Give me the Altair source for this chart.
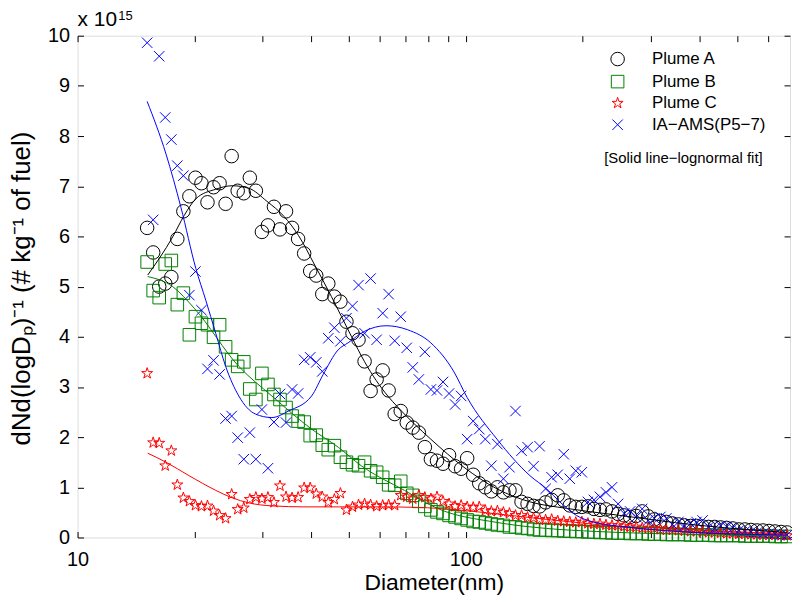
import altair as alt
import pandas as pd

FONT = "Liberation Sans, Arial, Helvetica, sans-serif"

# SMPS / AMS size bins (nm)
diam = [15.11, 15.66, 16.23, 16.82, 17.44, 18.07, 18.73, 19.41,
        20.12, 20.85, 21.61, 22.40, 23.22, 24.06, 24.94, 25.85,
        26.80, 27.78, 28.79, 29.84, 30.93, 32.05, 33.22, 34.43,
        35.69, 36.99, 38.34, 39.74, 41.19, 42.69, 44.24, 45.86,
        47.54, 49.27, 51.07, 52.93, 54.86, 56.86, 58.93, 61.08,
        63.28, 65.59, 67.98, 70.46, 73.02, 75.69, 78.44, 81.30,
        84.29, 87.36, 90.55, 93.85, 97.27, 100.81, 104.49, 108.30,
        112.27, 116.36, 120.60, 125.00, 129.56, 134.28, 139.17, 144.25,
        149.44, 154.89, 160.53, 166.38, 172.45, 178.74, 185.25, 192.00,
        199.0, 206.3, 213.8, 221.6, 229.6, 238.0, 246.7, 255.7,
        265.0, 274.7, 284.7, 295.0, 305.8, 317.0, 328.5, 340.5,
        352.9, 365.8, 379.1, 392.9, 407.2, 422.1, 437.5, 453.4,
        470.0, 487.1, 504.9, 523.3, 542.4, 562.1, 582.6, 603.9,
        625.9, 648.7, 672.4]

# values in units of 1e15 (# kg^-1 of fuel)
plume_a = [6.17, 5.68, 5.00, 5.06, 5.19, 5.95, 6.50, 6.80, 7.17, 7.06,
           6.68, 6.98, 7.06, 6.65, 7.60, 6.91, 6.86, 7.17, 6.91, 6.09,
           6.22, 6.59, 6.14, 6.50, 6.17, 5.95, 5.66, 5.31, 5.22, 4.85,
           5.06, 4.80, 4.70, 4.30, 4.07, 3.94, 3.51, 2.92, 3.15, 3.33,
           2.93, 2.46, 2.52, 2.29, 2.19, 2.09, 1.80, 1.56, 1.53, 1.47,
           1.64, 1.42, 1.37, 1.58, 1.25, 1.08, 1.00, 0.92, 1.00, 0.90,
           0.94, 0.94, 0.71, 0.67, 0.63, 0.62, 0.70, 0.75, 0.84, 0.74,
           0.64, 0.61, 0.61, 0.62, 0.57, 0.55, 0.56, 0.52, 0.47, 0.44,
           0.41, 0.43, 0.52, 0.42, 0.36, 0.33, 0.31, 0.28, 0.26, 0.24,
           0.23, 0.23, 0.22, 0.21, 0.21, 0.20, 0.19, 0.18, 0.16, 0.16,
           0.15, 0.14, 0.14, 0.13, 0.12, 0.11, 0.10]

plume_b = [5.49, 4.92, 4.78, 5.45, 5.52, 4.64, 4.87, 4.04, 4.40, 4.27,
           4.24, 3.99, 4.24, 3.80, 3.54, 3.41, 3.50, 2.96, 2.75, 3.27,
           3.05, 2.85, 2.75, 2.59, 2.42, 2.32, 2.30, 2.03, 2.04, 1.84,
           1.75, 1.83, 1.60, 1.50, 1.45, 1.43, 1.50, 1.33, 1.30, 1.20,
           1.05, 1.04, 1.12, 0.88, 0.84, 0.72, 0.62, 0.55, 0.51, 0.48,
           0.44, 0.41, 0.38, 0.35, 0.32, 0.31, 0.29, 0.27, 0.25, 0.24,
           0.21, 0.21, 0.19, 0.18, 0.16, 0.15, 0.15, 0.14, 0.14, 0.13,
           0.13, 0.12, 0.12, 0.11, 0.11, 0.10, 0.10, 0.09, 0.09, 0.09,
           0.08, 0.08, 0.08, 0.07, 0.07, 0.07, 0.06, 0.06, 0.06, 0.06,
           0.05, 0.05, 0.05, 0.05, 0.04, 0.04, 0.04, 0.04, 0.04, 0.03,
           0.03, 0.03, 0.03, 0.03, 0.02, 0.02, 0.02]

plume_c = [3.27, 1.89, 1.88, 1.43, 1.73, 1.05, 0.79, 0.72, 0.64, 0.62,
           0.63, 0.53, 0.44, 0.38, 0.86, 0.56, 0.59, 0.76, 0.80, 0.77,
           0.80, 0.70, 1.03, 0.81, 0.79, 0.80, 0.99, 0.99, 0.87, 0.81,
           0.70, 0.76, 0.88, 0.55, 0.61, 0.65, 0.67, 0.65, 0.62, 0.64,
           0.65, 0.64, 0.84, 0.81, 0.77, 0.84, 0.80, 0.77, 0.81, 0.72,
           0.67, 0.62, 0.64, 0.61, 0.60, 0.61, 0.54, 0.52, 0.53, 0.50,
           0.48, 0.44, 0.44, 0.40, 0.39, 0.36, 0.35, 0.36, 0.33, 0.32,
           0.31, 0.30, 0.31, 0.28, 0.27, 0.27, 0.25, 0.24, 0.24, 0.22,
           0.21, 0.21, 0.19, 0.18, 0.18, 0.16, 0.15, 0.15, 0.14, 0.13,
           0.12, 0.12, 0.11, 0.10, 0.10, 0.09, 0.08, 0.08, 0.07, 0.07,
           0.06, 0.06, 0.05, 0.05, 0.05, 0.04, 0.04]

ams = [9.86, 6.33, 9.59, 8.37, 7.93, 7.41, 7.21, 4.83, 5.30, 4.53,
       3.36, 3.53, 3.25, 2.37, 2.42, 1.99, 1.56, 2.09, 1.56, 2.55,
       1.38, 2.30, 2.86, 2.29, 2.95, 2.87, 3.54, 3.59, 3.49, 3.31,
       3.97, 4.18, 3.91, 4.37, 4.61, 5.03, 4.07, 5.16, 3.94, 4.47,
       4.85, 3.92, 4.40, 3.78, 3.39, 3.15, 3.70, 2.95, 2.93, 3.10,
       2.87, 2.65, 2.82, 1.96, 2.32, 2.16, 1.96, 1.43, 1.86, 1.17,
       1.40, 2.52, 1.73, 1.80, 1.42, 1.82, 0.97, 1.20, 1.25, 1.66,
       1.17, 1.33, 1.30, 0.71, 0.75, 0.81, 0.90, 1.00, 0.67, 0.48,
       0.52, 0.41, 0.57, 0.34, 0.38, 0.41, 0.38, 0.26, 0.31, 0.23,
       0.28, 0.31, 0.34, 0.21, 0.18, 0.23, 0.21, 0.19, 0.14, 0.12,
       0.11, 0.10, 0.08, 0.08, 0.07, 0.06, 0.05]

# lognormal fit curves
fit_a_d = [15.16, 17.58, 18.83, 20.17, 22.69, 25.02, 27.60, 30.74, 34.0, 37.06,
           40.88, 45.08, 50.72, 54.88, 62.96, 66.77, 81.23, 98.89, 120.3, 146.4,
           181.7, 243.9, 390.7, 671.6]
fit_a_y = [5.23, 5.99, 6.42, 6.75, 6.94, 7.01, 6.96, 6.70, 6.40, 6.02,
           5.42, 4.80, 4.01, 3.50, 2.82, 2.60, 1.96, 1.40, 0.97, 0.71,
           0.58, 0.45, 0.25, 0.10]
fit_b_d = [15.16, 17.58, 19.97, 26.02, 31.66, 40.07, 46.91, 53.79, 69.45, 84.5,
           120.3, 161.5, 216.8, 390.7, 671.6]
fit_b_y = [5.20, 5.00, 4.57, 3.41, 2.82, 2.16, 1.80, 1.43, 0.94, 0.58,
           0.30, 0.18, 0.12, 0.06, 0.03]
fit_c_d = [15.16, 16.90, 19.39, 22.69, 25.02, 27.60, 31.66, 38.53, 46.91, 59.36,
           75.10, 95.06, 120.3, 161.5, 216.8, 290.9, 390.7, 671.6]
fit_c_y = [1.68, 1.50, 1.23, 0.94, 0.79, 0.69, 0.63, 0.61, 0.61, 0.61,
           0.60, 0.55, 0.47, 0.36, 0.26, 0.17, 0.11, 0.04]
fit_m_d = [15.11, 16.90, 18.46, 20.17, 21.39, 22.69, 24.07, 26.02, 28.72, 31.66,
           34.94, 40.07, 42.93, 46.91, 49.75, 54.88, 62.33, 70.81, 81.23, 93.23,
           100.8, 120.3, 146.4, 161.5, 174.7, 192.7, 212.6, 258.7, 390.7, 671.6]
fit_m_y = [8.69, 7.64, 6.58, 5.36, 4.73, 4.07, 3.41, 2.82, 2.46, 2.39,
           2.52, 2.82, 3.25, 3.74, 3.88, 4.11, 4.22, 4.14, 3.88, 3.30,
           2.79, 1.96, 1.23, 0.97, 0.71, 0.44, 0.31, 0.21, 0.10, 0.05]

series_names = ["Plume A", "Plume B", "Plume C", "IA\u2212AMS(P5\u22127)"]
series_colors = ["#000000", "#008000", "#ff0000", "#0000ff"]
star_path = ("M0,-1L0.2245,-0.309L0.951,-0.309L0.3633,0.118L0.5878,0.809L0,0.382"
             "L-0.5878,0.809L-0.3633,0.118L-0.951,-0.309L-0.2245,-0.309Z")
x_path = "M-1,-1L1,1M1,-1L-1,1"
series_shapes = ["circle", "square", star_path, x_path]
series_sizes = [185, 110, 220, 100]

x_ticks = [10, 20, 30, 40, 50, 60, 70, 80, 90, 100, 200, 300, 400, 500, 600]
y_ticks = list(range(11))

W, H = 717, 505

rows = []
for name, vals in zip(series_names, [plume_a, plume_b, plume_c, ams]):
    for d, v in zip(diam, vals):
        rows.append({"d": d, "y": v, "series": name})
pts = pd.DataFrame(rows)

fits = [(fit_a_d, fit_a_y, series_colors[0]), (fit_b_d, fit_b_y, series_colors[1]),
        (fit_c_d, fit_c_y, series_colors[2]), (fit_m_d, fit_m_y, series_colors[3])]

xscale = alt.Scale(type="log", domain=[10, 684], nice=False)
yscale = alt.Scale(domain=[0, 10], nice=False)

points = alt.Chart(pts).mark_point(filled=False, strokeWidth=1, opacity=1).encode(
    x=alt.X("d:Q", scale=xscale,
            axis=alt.Axis(orient="bottom", values=[10, 100], format="d", ticks=False, tickSize=0,
                          domain=False, grid=False, labelFontSize=20, labelPadding=12,
                          labelFlush=False, labelColor="black", labelFont=FONT,
                          title="Diameter(nm)", titleFontSize=23, titleFont=FONT,
                          titleFontWeight="normal", titleColor="black",
                          titleY=34, titleBaseline="top")),
    y=alt.Y("y:Q", scale=yscale,
            axis=alt.Axis(orient="left", values=y_ticks, ticks=False, tickSize=0, domain=False,
                          grid=False, labelFontSize=20, labelPadding=8, labelColor="black",
                          labelFont=FONT, labelFlush=False,
                          title="dNd(logD\u209a)\u207b\u00b9 (# kg\u207b\u00b9 of fuel)",
                          titleFontSize=26, titleFont=FONT, titleFontWeight="normal",
                          titleColor="black", titleX=-48, titleY=254,
                          titleBaseline="alphabetic")),
    color=alt.Color("series:N", scale=alt.Scale(domain=series_names, range=series_colors),
                    legend=alt.Legend(orient="none", legendX=535, legendY=15, title=None,
                                      labelFontSize=17, labelFont=FONT, labelColor="black",
                                      labelOffset=26, rowPadding=3.7, padding=0,
                                      symbolStrokeWidth=1)),
    shape=alt.Shape("series:N", scale=alt.Scale(domain=series_names, range=series_shapes)),
    size=alt.Size("series:N", scale=alt.Scale(domain=series_names, range=series_sizes)),
)

layers = [points]
for i, (fd, fy, col) in enumerate(fits):
    df = pd.DataFrame({"d": fd, "y": fy})
    if i == 0:
        xax = alt.Axis(orient="top", offset=-H, values=x_ticks, labels=False, ticks=True,
                       tickSize=6, tickColor="black", domain=False, grid=False, title=None)
        yax = alt.Axis(orient="right", offset=-W, values=y_ticks, labels=False, ticks=True,
                       tickSize=6, tickColor="black", domain=False, grid=False, title=None)
    elif i == 1:
        xax = alt.Axis(orient="bottom", offset=-H, values=x_ticks, labels=False, ticks=True,
                       tickSize=6, tickColor="black", domain=False, grid=False, title=None)
        yax = alt.Axis(orient="left", offset=-W, values=y_ticks, labels=False, ticks=True,
                       tickSize=6, tickColor="black", domain=False, grid=False, title=None)
    else:
        xax = None
        yax = None
    line = alt.Chart(df).mark_line(color=col, strokeWidth=1, interpolate="monotone").encode(
        x=alt.X("d:Q", scale=xscale, axis=xax),
        y=alt.Y("y:Q", scale=yscale, axis=yax),
    )
    layers.append(line)

ann = pd.DataFrame({"t": ["x 10"]})
t1 = alt.Chart(ann).mark_text(align="left", baseline="alphabetic", fontSize=21, font=FONT,
                              color="black").encode(x=alt.value(0), y=alt.value(-10),
                                                    text="t:N")
ann2 = pd.DataFrame({"t": ["15"]})
t2 = alt.Chart(ann2).mark_text(align="left", baseline="alphabetic", fontSize=13, font=FONT,
                               color="black").encode(x=alt.value(41), y=alt.value(-16),
                                                     text="t:N")
ann3 = pd.DataFrame({"t": ["[Solid line\u2212lognormal fit]"]})
t3 = alt.Chart(ann3).mark_text(align="left", baseline="alphabetic", fontSize=15, font=FONT,
                               color="black").encode(x=alt.value(530), y=alt.value(128),
                                                     text="t:N")
layers += [t1, t2, t3]

chart = alt.layer(*layers).resolve_axis(x="independent", y="independent").properties(
    width=W, height=H,
    autosize=alt.AutoSizeParams(type="none"),
    padding={"left": 70, "top": 26, "right": 2, "bottom": 56},
).configure_view(stroke="black", strokeWidth=1).configure(background="white")

chart.save("out.html", embed_options={"renderer": "svg", "actions": False})
